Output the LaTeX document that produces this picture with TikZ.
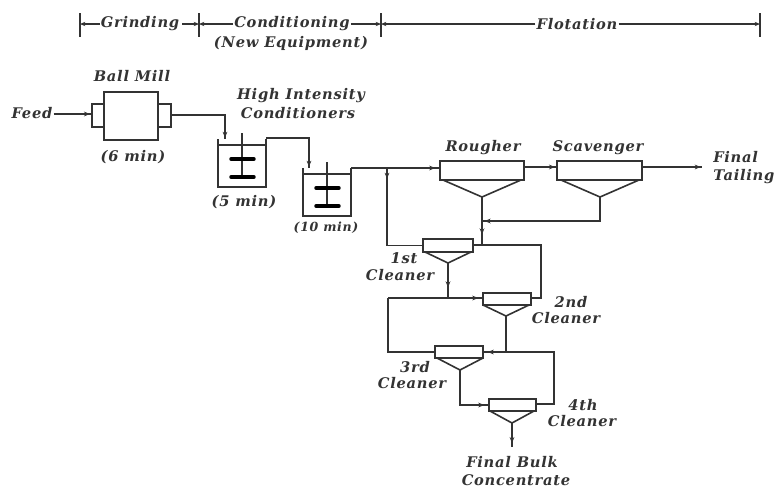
\documentclass[tikz,border=0pt]{standalone}
\usepackage{fontspec}
\setmainfont{DejaVu Serif}[LetterSpace=5]
\usetikzlibrary{arrows.meta,decorations.markings,fit,calc}
\definecolor{ink}{HTML}{333333}
\newcommand{\vessel}[5]{% name, x1, y1, x2, y2 
  \coordinate (#1nw) at (#2,#3); \coordinate (#1se) at (#4,#5);
  \node[unitbox,fit=(#1nw)(#1se)] (#1) {};
}
\newcommand{\hopper}[5]{% name, top y, apex x, apex y, half width
  \coordinate (#1apex) at (#3,#4);
  \draw[line] (#3-#5,#2) -- (#1apex) -- (#3+#5,#2);
}
\newcommand{\tank}[3]{% name, x, y of top-left at rim
  \coordinate (#1nw) at (#2,#3+6); \coordinate (#1se) at (#2+48,#3+48);
  \node[tankbody,fit=(#1nw)(#1se)] (#1) {};
  \draw[line] (#2,#3) -- (#2,#3+6) (#2+48,#3) -- (#2+48,#3+6);
  \draw[line] (#2+24,#3-6) -- (#2+24,#3+37);
  \draw[line width=2.6pt,line cap=round] (#2+13,#3+20) -- (#2+36,#3+20);
  \draw[line width=2.6pt,line cap=round] (#2+13,#3+38) -- (#2+36,#3+38);
}
\tikzset{
  x=0.75pt,y=-0.75pt,
  line/.style={draw=ink,line width=1.2pt},
  unitbox/.style={line,fill=white,inner sep=0pt,rectangle},
  tankbody/.style={line,inner sep=0pt,rectangle},
  pipe/.style={line,line join=miter},
  tipat/.style={line,postaction={decorate},decoration={markings,mark=at position #1 with {\arrow{Stealth[length=4.5pt,width=3.6pt]}}}},
  lab/.style={font=\bfseries\itshape\fontsize{11}{13}\selectfont,text=ink,inner sep=0pt},
  labsmall/.style={font=\bfseries\itshape\fontsize{9.4}{11}\selectfont,text=ink,inner sep=0pt},
}
\begin{document}
\begin{tikzpicture}
\useasboundingbox[fill=white] (0,0) rectangle (778,487);
% header
\node[lab] (hgrind) at (140,24) {Grinding};
\node[lab] (hcond) at (292,24) {Conditioning};
\node[lab] (hnew) at (291,43) {(New Equipment)};
\node[lab] (hflot) at (577,24) {Flotation};
\coordinate (t1) at (80,24); \coordinate (t2) at (199,24);
\coordinate (t3) at (381,24); \coordinate (t4) at (760,24);
\foreach \t in {t1,t2,t3,t4} \draw[line] ($(\t)+(0,-11)$) -- ($(\t)+(0,13)$);
\draw[line,-{Stealth[length=4pt,width=3.2pt]}] (hgrind.west) ++(-1,0) -- (t1);
\draw[line,-{Stealth[length=4pt,width=3.2pt]}] (hgrind.east) ++(3,0) -- (t2);
\draw[line,-{Stealth[length=4pt,width=3.2pt]}] (hcond.west) ++(-1,0) -- (t2);
\draw[line,-{Stealth[length=4pt,width=3.2pt]}] (hcond.east) ++(1,0) -- (t3);
\draw[line,-{Stealth[length=4pt,width=3.2pt]}] (hflot.west) ++(-1,0) -- (t3);
\draw[line,-{Stealth[length=4pt,width=3.2pt]}] (hflot.east) ++(1,0) -- (t4);
% ball mill
\vessel{mill}{104}{92}{158}{140}
\vessel{trunl}{92}{104}{104}{127}
\vessel{trunr}{158}{104}{171}{127}
\node[lab] (lmill) at (132,76) {Ball Mill};
\node[lab] (lfeed) at (32,113) {Feed};
\node[lab] (l6) at (133,157) {(6 min)};
\draw[tipat=-1pt] (lfeed.east) ++(1,1) -- (trunl.west |- 0,114);
% conditioners
\tank{c1}{218}{139}
\tank{c2}{303}{168}
\node[lab] (lhi) at (301,96) {High Intensity};
\node[lab] (lco) at (298,113) {Conditioners};
\node[lab] (l5) at (244,202) {(5 min)};
\node[labsmall] (l10) at (326,228) {(10 min)};
\coordinate (c1in) at (225,139);
\coordinate (c2in) at (309,168);
\coordinate (c1rim) at (266,138);
\coordinate (c2rim) at (351,168);
\draw[tipat=-1pt] (trunr.east |- 0,115) -- (225,115) -- (c1in);
\draw[tipat=-1pt] (c1rim) -- (309,138) -- (c2in);
% flotation
\vessel{rough}{440}{161}{524}{180}
\vessel{scav}{557}{161}{642}{180}
\hopper{rough}{180}{482}{197}{39}
\hopper{scav}{180}{600}{197}{39}
\node[lab] (lrough) at (483,148) {Rougher};
\node[lab] (lscav) at (598,148) {Scavenger};
\node[lab,anchor=west] (lfin) at (713,157) {Final};
\node[lab,anchor=west] (ltail) at (713,177) {Tailing};
\coordinate (tailend) at (702,167);
\draw[tipat=-3pt] (c2rim) -- (rough.west |- 0,168);
\draw[tipat=-1pt] (rough.east |- 0,167) -- (scav.west |- 0,167);
\draw[tipat=-1pt] (scav.east |- 0,167) -- (tailend);
% cleaners
\vessel{cla}{423}{239}{473}{252}
\vessel{clb}{483}{293}{531}{305}
\vessel{clc}{435}{346}{483}{358}
\vessel{cld}{489}{399}{536}{411}
\hopper{cla}{252}{448}{263}{23}
\hopper{clb}{305}{506}{316}{23}
\hopper{clc}{358}{460}{370}{23}
\hopper{cld}{411}{512}{423}{22}
\node[lab] (l1a) at (404,258) {1st};
\node[lab] (l1b) at (400,275) {Cleaner};
\node[lab] (l2a) at (571,302) {2nd};
\node[lab] (l2b) at (566,318) {Cleaner};
\node[lab] (l3a) at (415,367) {3rd};
\node[lab] (l3b) at (412,383) {Cleaner};
\node[lab] (l4a) at (583,405) {4th};
\node[lab] (l4b) at (582,421) {Cleaner};
\node[lab] (lbulk) at (512,462) {Final Bulk};
\node[lab] (lconc) at (516,480) {Concentrate};
\coordinate (ja) at (387,168);
\coordinate (jb) at (482,221);
\coordinate (jc) at (448,298);
\coordinate (jd) at (506,352);
\coordinate (je) at (482,245);
\coordinate (concend) at (512,447);
% connectors
\draw[tipat=8pt] (ja) -- (ja |- cla.west) -- (cla.west);
\draw[tipat=-2pt] (scavapex) -- (scavapex |- jb) -- (jb);
\draw[tipat=-8pt] (roughapex) -- (je);
\draw[pipe] (cla.east |- je) -- (541,245) -- (541,298) -- (clb.east |- jc);
\draw[tipat=-8pt] (claapex) -- (jc);
\draw[tipat=-3pt] (388,298) -- (clb.west |- jc);
\draw[pipe] (388,298) -- (388,352) -- (clc.west |- jd);
\draw[line] (clbapex) -- (jd);
\draw[tipat=-3pt] (jd) -- (clc.east |- jd);
\draw[pipe] (jd) -- (554,352) -- (554,404) -- (cld.east |- 0,404);
\draw[tipat=-3pt] (clcapex) -- (460,405) -- (cld.west |- 0,405);
\draw[tipat=-3pt] (cldapex) -- (concend);
\end{tikzpicture}
\end{document}
